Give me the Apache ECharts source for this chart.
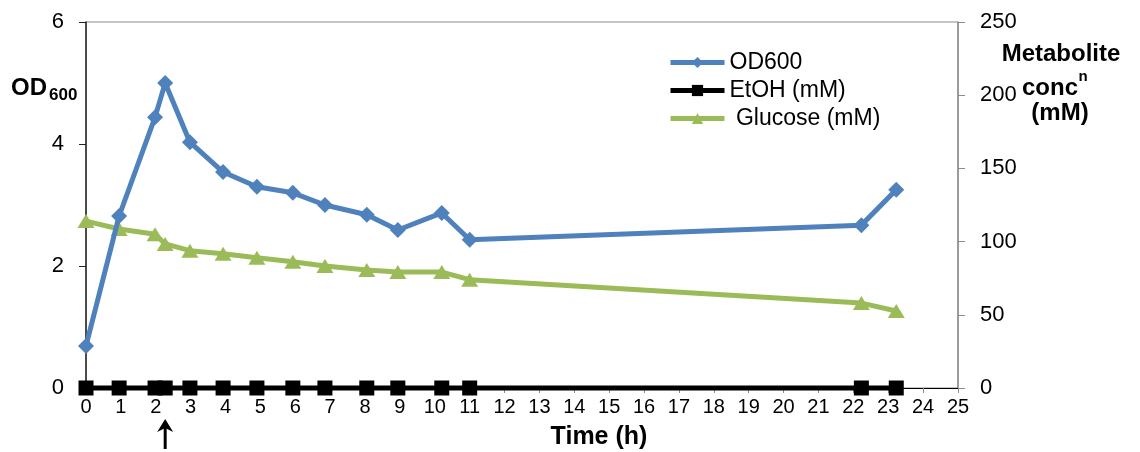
<!DOCTYPE html>
<html><head><meta charset="utf-8">
<script src="https://cdn.jsdelivr.net/npm/echarts@6/dist/echarts.min.js"></script>
<style>html,body{margin:0;padding:0;background:#fff}#c{width:1140px;height:452px}</style>
</head><body><div id="c"></div>
<script>
// ---- data ----
const timeH   = [0, 0.95, 1.98, 2.27, 2.98, 3.93, 4.9, 5.93, 6.85, 8.05, 8.94, 10.2, 11.0, 22.23, 23.23];
const od600   = [0.69, 2.82, 4.44, 5.0, 4.03, 3.54, 3.3, 3.2, 3.0, 2.84, 2.59, 2.87, 2.43, 2.67, 3.25];
const etohMM  = [0, 0, 0, 0, 0, 0, 0, 0, 0, 0, 0, 0, 0, 0, 0];
const glucoseMM = [114, 108.6, 105, 98.4, 93.8, 91.7, 89, 86.3, 83.3, 80.6, 79.2, 79.2, 74, 58, 52.6];
const xAxisRange = [0, 25, 1];
const leftAxisRange = [0, 6, 2];
const rightAxisRange = [0, 250, 50];
const seriesNames = ['OD600', 'EtOH (mM)', ' Glucose (mM)'];
const arrowTime = 2.27;

const FONT = '"Liberation Sans", Arial, sans-serif';
const chart = echarts.init(document.getElementById('c'), null, {renderer: 'canvas'});
const pair = (xs, ys) => xs.map((x, i) => [x, ys[i]]);

chart.setOption({
  animation: false,
  backgroundColor: '#fff',
  textStyle: {fontFamily: FONT, color: '#000'},
  grid: {left: 86, right: 182, top: 22, bottom: 64, show: true, borderColor: '#8c8c8c', borderWidth: 1, backgroundColor: 'transparent'},
  legend: {
    orient: 'vertical', left: 668, top: 51, padding: 0, itemGap: 5,
    itemWidth: 54, itemHeight: 14,
    lineStyle: {width: 5},
    textStyle: {fontFamily: FONT, fontSize: 23, color: '#000'},
    data: seriesNames
  },
  xAxis: {
    type: 'value', min: xAxisRange[0], max: xAxisRange[1], interval: xAxisRange[2],
    axisLine: {lineStyle: {color: '#000', width: 1}},
    axisTick: {show: true, inside: false, length: 5, lineStyle: {color: '#8c8c8c'}},
    axisLabel: {fontSize: 20, color: '#000', margin: 9, fontFamily: FONT},
    splitLine: {show: false}
  },
  yAxis: [{
    type: 'value', position: 'left', min: leftAxisRange[0], max: leftAxisRange[1], interval: leftAxisRange[2],
    axisLine: {show: true, lineStyle: {color: '#222', width: 1.5}},
    axisTick: {show: true, length: 7, lineStyle: {color: '#222'}},
    axisLabel: {fontSize: 22, color: '#000', margin: 22, fontFamily: FONT},
    splitLine: {show: false}
  }, {
    type: 'value', position: 'right', min: rightAxisRange[0], max: rightAxisRange[1], interval: rightAxisRange[2],
    axisLine: {show: true, lineStyle: {color: '#8c8c8c', width: 1.5}},
    axisTick: {show: true, length: 7, lineStyle: {color: '#8c8c8c'}},
    axisLabel: {fontSize: 22, color: '#000', margin: 22, fontFamily: FONT},
    splitLine: {show: false}
  }],
  series: [{
    name: seriesNames[0], type: 'line', yAxisIndex: 0, clip: false, z: 4,
    data: pair(timeH, od600),
    symbol: 'diamond', symbolSize: 16,
    lineStyle: {color: '#4F81BD', width: 5},
    itemStyle: {color: '#4F81BD'}
  }, {
    name: seriesNames[1], type: 'line', yAxisIndex: 1, clip: false, z: 5,
    data: pair(timeH, etohMM),
    symbol: 'rect', symbolSize: 15,
    lineStyle: {color: '#000', width: 5},
    itemStyle: {color: '#000'}
  }, {
    name: seriesNames[2], type: 'line', yAxisIndex: 1, clip: false, z: 3,
    data: pair(timeH, glucoseMM),
    symbol: 'triangle', symbolSize: [17, 14],
    lineStyle: {color: '#9BBB59', width: 5},
    itemStyle: {color: '#9BBB59'}
  }]
});

const ax = chart.convertToPixel({xAxisIndex: 0}, arrowTime);
const bold = (text, x, y, size, align) => ({
  type: 'text', x: x, y: y,
  style: {text: text, fontFamily: FONT, fontWeight: 'bold', fontSize: size, fill: '#000', align: align || 'center', verticalAlign: 'middle'}
});
chart.setOption({
  graphic: [
    bold('OD', 11, 88, 24, 'left'),
    bold('600', 49, 95, 17, 'left'),
    bold('Metabolite', 1061, 54, 24),
    bold('conc', 1050, 88, 24),
    bold('n', 1083, 77, 15),
    bold('(mM)', 1060, 113, 24),
    bold('Time (h)', 599, 437, 25),
    {type: 'rect', shape: {x: ax - 1.5, y: 428, width: 3, height: 21}, style: {fill: '#000'}},
    {type: 'polygon', shape: {points: [[ax, 419], [ax - 8, 432], [ax, 428], [ax + 8, 432]]}, style: {fill: '#000'}}
  ]
});
</script></body></html>
